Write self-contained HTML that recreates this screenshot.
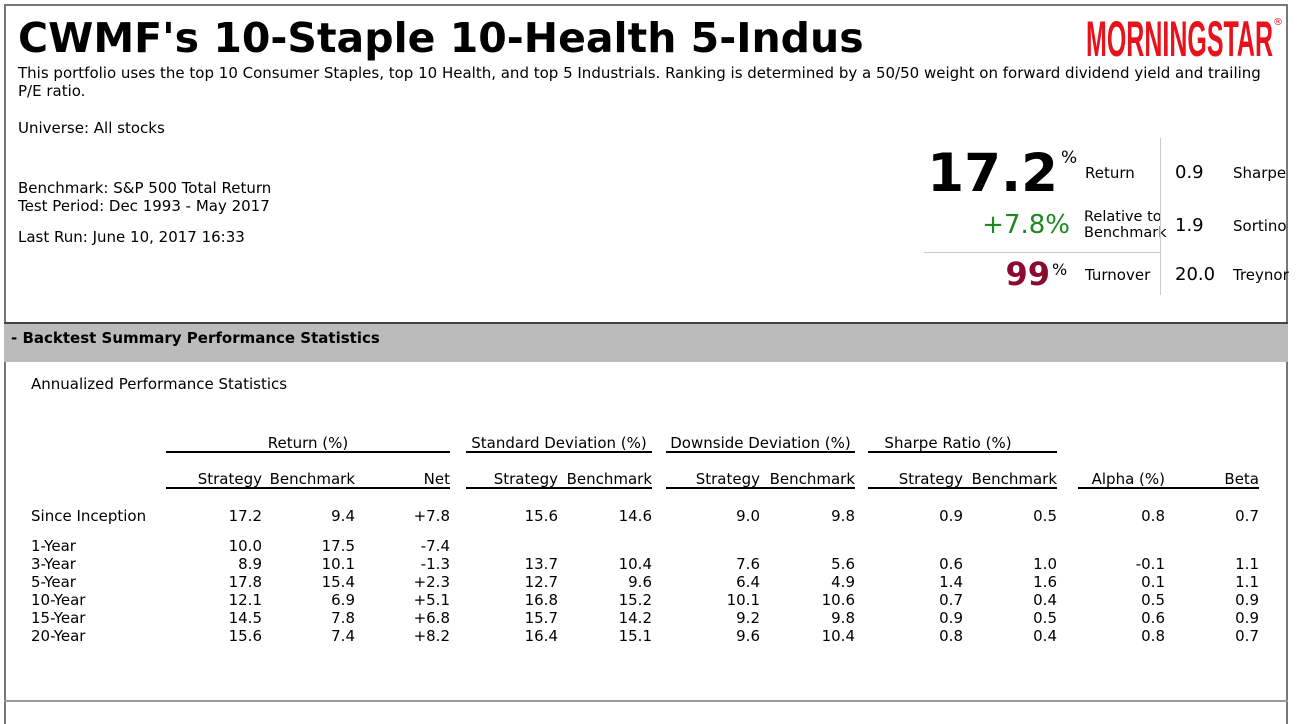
<!DOCTYPE html>
<html><head><meta charset="utf-8"><style>
*{margin:0;padding:0;box-sizing:border-box}
body{width:1299px;height:707px;background:#fff;font-family:"DejaVu Sans","Liberation Sans",sans-serif;font-size:15px;color:#000;position:relative;overflow:hidden}
.a{position:absolute;white-space:nowrap;line-height:17px}
.r{text-align:right}
.ln{position:absolute;height:2px;background:#000}
</style></head><body>
<div style="position:absolute;left:4px;top:4px;width:1284px;height:720px;border:2px solid #777;border-bottom:none"></div>
<div class="a" style="left:18px;top:15px;font-size:41px;line-height:46px;font-weight:bold">CWMF's 10-Staple 10-Health 5-Indus</div>
<div class="a" style="left:1086px;top:14px;font-size:50px;line-height:50px;color:#e8121c;font-family:'Liberation Sans Narrow','Liberation Sans',sans-serif;font-weight:bold;transform:scaleX(0.5);transform-origin:left">MORNINGSTAR</div>
<div class="a" style="left:1273px;top:14px;font-size:10px;color:#e8121c">®</div>
<div class="a" style="left:18px;top:64px;line-height:18px">This portfolio uses the top 10 Consumer Staples, top 10 Health, and top 5 Industrials. Ranking is determined by a 50/50 weight on forward dividend yield and trailing<br>P/E ratio.</div>
<div class="a" style="left:18px;top:120px">Universe: All stocks</div>
<div class="a" style="left:18px;top:179px;line-height:18px">Benchmark: S&amp;P 500 Total Return<br>Test Period: Dec 1993 - May 2017</div>
<div class="a" style="left:18px;top:229px">Last Run: June 10, 2017 16:33</div>

<div class="a r" style="left:900px;width:158px;top:145px;font-size:53px;line-height:58px;font-weight:bold">17.2</div>
<div class="a" style="left:1061px;top:150px;font-size:17px">%</div>
<div class="a" style="left:1085px;top:165px">Return</div>
<div class="a r" style="left:900px;width:170px;top:210px;font-size:26px;line-height:30px;color:#1e8a1e">+7.8%</div>
<div class="a" style="left:1084px;top:209px;line-height:16px;font-size:14.5px">Relative to<br>Benchmark</div>
<div style="position:absolute;left:924px;top:252px;width:236px;height:1px;background:#ccc"></div>
<div class="a r" style="left:900px;width:150px;top:256px;font-size:32px;line-height:36px;font-weight:bold;color:#8b0a2f">99</div>
<div class="a" style="left:1052px;top:261px;font-size:16px">%</div>
<div class="a" style="left:1085px;top:267px">Turnover</div>
<div style="position:absolute;left:1160px;top:138px;width:1px;height:157px;background:#ccc"></div>
<div class="a" style="left:1175px;top:164px;font-size:18px;line-height:18px">0.9</div>
<div class="a" style="left:1233px;top:165px">Sharpe</div>
<div class="a" style="left:1175px;top:217px;font-size:18px;line-height:18px">1.9</div>
<div class="a" style="left:1233px;top:218px">Sortino</div>
<div class="a" style="left:1175px;top:266px;font-size:18px;line-height:18px">20.0</div>
<div class="a" style="left:1233px;top:267px">Treynor</div>

<div style="position:absolute;left:4px;top:322px;width:1284px;height:40px;background:#bbb;border-top:2px solid #444"></div>
<div class="a" style="left:11px;top:330px;font-weight:bold">- Backtest Summary Performance Statistics</div>
<div class="a" style="left:31px;top:376px">Annualized Performance Statistics</div>
<div style="position:absolute;left:4px;top:700px;width:1284px;height:2px;background:#999"></div>

<div class="a" style="left:166px;width:284px;top:435px;text-align:center">Return (%)</div>
<div class="a" style="left:466px;width:186px;top:435px;text-align:center">Standard Deviation (%)</div>
<div class="a" style="left:666px;width:189px;top:435px;text-align:center">Downside Deviation (%)</div>
<div class="a" style="left:868px;width:160px;top:435px;text-align:center">Sharpe Ratio (%)</div>
<div class="ln" style="left:166px;width:284px;top:451px"></div>
<div class="ln" style="left:466px;width:186px;top:451px"></div>
<div class="ln" style="left:666px;width:189px;top:451px"></div>
<div class="ln" style="left:868px;width:189px;top:451px"></div>
<div class="ln" style="left:166px;width:284px;top:487px"></div>
<div class="ln" style="left:466px;width:186px;top:487px"></div>
<div class="ln" style="left:666px;width:189px;top:487px"></div>
<div class="ln" style="left:868px;width:189px;top:487px"></div>
<div class="ln" style="left:1078px;width:181px;top:487px"></div>

<div id="t"></div>
<script>
var R=[262,355,450,558,652,760,855,963,1057,1165,1259];
var H=["Strategy","Benchmark","Net","Strategy","Benchmark","Strategy","Benchmark","Strategy","Benchmark","Alpha (%)","Beta"];
var rows=[
["Since Inception",508,["17.2","9.4","+7.8","15.6","14.6","9.0","9.8","0.9","0.5","0.8","0.7"]],
["1-Year",538,["10.0","17.5","-7.4","","","","","","","",""]],
["3-Year",556,["8.9","10.1","-1.3","13.7","10.4","7.6","5.6","0.6","1.0","-0.1","1.1"]],
["5-Year",574,["17.8","15.4","+2.3","12.7","9.6","6.4","4.9","1.4","1.6","0.1","1.1"]],
["10-Year",592,["12.1","6.9","+5.1","16.8","15.2","10.1","10.6","0.7","0.4","0.5","0.9"]],
["15-Year",610,["14.5","7.8","+6.8","15.7","14.2","9.2","9.8","0.9","0.5","0.6","0.9"]],
["20-Year",628,["15.6","7.4","+8.2","16.4","15.1","9.6","10.4","0.8","0.4","0.8","0.7"]]];
var h="";
H.forEach(function(s,i){h+='<div class="a r" style="left:'+(R[i]-120)+'px;width:120px;top:471px">'+s+'</div>';});
rows.forEach(function(r){h+='<div class="a" style="left:31px;top:'+r[1]+'px">'+r[0]+'</div>';
r[2].forEach(function(v,i){h+='<div class="a r" style="left:'+(R[i]-100)+'px;width:100px;top:'+r[1]+'px">'+v+'</div>';});});
document.getElementById("t").innerHTML=h;
</script>
</body></html>
